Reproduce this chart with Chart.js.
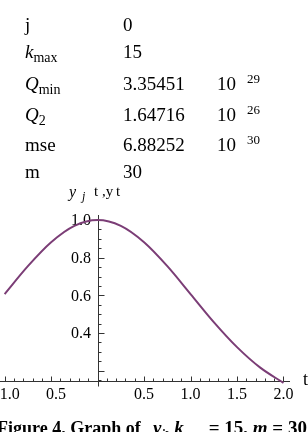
<!DOCTYPE html>
<html>
<head>
<meta charset="utf-8">
<script src="https://cdn.jsdelivr.net/npm/chart.js@4/dist/chart.umd.min.js"></script>
<style>
  html, body { margin: 0; padding: 0; background: #fff; overflow: hidden; }
  #wrap { position: relative; width: 308px; height: 432px; font-family: "Liberation Serif", "Times New Roman", serif; color: #000; }
  #wrap canvas { position: absolute; left: 0; top: 0; }
  .t { position: absolute; white-space: nowrap; line-height: 1; }
  .sub { vertical-align: -4px; }
</style>
</head>
<body>
<div id="wrap"><canvas id="curveChart" width="308" height="432"></canvas></div>
<script>
// Curve samples
const tValues = [-1.0, -0.75, -0.5, -0.25, 0, 0.25, 0.5, 0.75, 1.0, 1.25, 1.5, 1.75, 2.0];
const yValues = [0.607, 0.755, 0.882, 0.969, 1.0, 0.969, 0.882, 0.755, 0.607, 0.458, 0.325, 0.216, 0.135];

// Axis ticks (minus signs on the left side are missing in the source)
const xTickValues = [-1, -0.5, 0.5, 1, 1.5, 2];
const xTickLabels = ['1.0', '0.5', '0.5', '1.0', '1.5', '2.0'];
const yTickValues = [0.4, 0.6, 0.8, 1.0];
const yTickLabels = ['0.4', '0.6', '0.8', '1.0'];

// Parameter table
const paramNames = ['j', '<i>k</i><span class="sub" style="font-size:14px">max</span>',
  '<i>Q</i><span class="sub" style="font-size:14px">min</span>', '<i>Q</i><span class="sub" style="font-size:14px">2</span>', 'mse', 'm'];
const paramValues = ['0', '15', '3.35451', '1.64716', '6.88252', '30'];
const paramExponents = ['', '', '29', '26', '30', ''];
const rowBaselines = [31, 58, 90, 121, 151, 178];

const wrap = document.getElementById('wrap');

function put(html, x, base, size, extra) {
  const el = document.createElement('div');
  el.className = 't';
  el.innerHTML = html;
  el.style.left = x + 'px';
  el.style.top = (base - 0.8375 * size) + 'px';
  el.style.fontSize = size + 'px';
  if (extra) el.style.cssText += extra;
  wrap.appendChild(el);
}

paramNames.forEach((name, i) => {
  const b = rowBaselines[i];
  put(name, 25, b, 19);
  put(paramValues[i], 123, b, 19);
  if (paramExponents[i]) {
    put('10', 217, b, 19);
    put(paramExponents[i], 247, b - 7, 13);
  }
});

// y axis label: y_j t ,y t
put('<i>y</i>', 69, 197, 16);
put('<i>j</i>', 82, 200, 12);
put('t', 94, 197, 15);
put(',y', 102, 197, 15);
put('t', 116, 197, 15);
put('t', 303, 385, 18);

// caption (cut off at the bottom of the picture)
put('Figure 4. Graph of', -3, 434, 18, 'font-weight:bold');
put('<i>y</i><span class="sub" style="font-size:12px"><i>j</i></span>, <i>k</i><span class="sub" style="font-size:11px">max</span> = 15, <i>m</i> = 30',
  153, 434, 19, 'font-weight:bold');

// Mathematica style axes drawn through the chart's scales
const mmaAxes = {
  id: 'mmaAxes',
  beforeDatasetsDraw(chart) {
    const { ctx, chartArea } = chart;
    const xs = chart.scales.x;
    const ys = chart.scales.y;
    const x0 = Math.round(xs.getPixelForValue(0)) + 0.5;
    const yb = Math.round(chartArea.bottom) + 0.5;

    ctx.save();
    ctx.strokeStyle = '#333';
    ctx.lineWidth = 1;
    ctx.beginPath();
    ctx.moveTo(0, yb);
    ctx.lineTo(chartArea.right, yb);
    ctx.moveTo(x0, chartArea.top);
    ctx.lineTo(x0, yb + 5);

    // x ticks, pointing up
    for (let k = -10; k <= 20; k++) {
      if (k === 0) continue;
      const px = Math.round(xs.getPixelForValue(k / 10)) + 0.5;
      const len = k % 5 === 0 ? 5 : 3;
      ctx.moveTo(px, yb);
      ctx.lineTo(px, yb - len);
    }
    // y ticks, pointing right
    for (let k = 3; k <= 20; k++) {
      const py = Math.round(ys.getPixelForValue(k / 20)) + 0.5;
      const len = k % 4 === 0 ? 6 : 3;
      ctx.moveTo(x0, py);
      ctx.lineTo(x0 + len, py);
    }
    ctx.stroke();

    ctx.fillStyle = '#000';
    ctx.font = '16px "Liberation Serif", serif';
    ctx.textBaseline = 'middle';
    xTickValues.forEach((v, i) => {
      const px = xs.getPixelForValue(v);
      if (v < 0) {
        ctx.textAlign = 'right';
        ctx.fillText(xTickLabels[i], px + 15, yb + 13);
      } else {
        ctx.textAlign = 'center';
        ctx.fillText(xTickLabels[i], px, yb + 13);
      }
    });
    ctx.textAlign = 'right';
    yTickValues.forEach((v, i) => {
      ctx.fillText(yTickLabels[i], x0 - 7.5, ys.getPixelForValue(v) + 1);
    });
    ctx.restore();
  }
};

new Chart(document.getElementById('curveChart'), {
  type: 'scatter',
  data: {
    datasets: [{
      data: tValues.map((t, i) => ({ x: t, y: yValues[i] })),
      showLine: true,
      borderColor: 'rgb(123, 61, 118)',
      borderWidth: 2,
      pointRadius: 0,
      cubicInterpolationMode: 'monotone',
      clip: false
    }]
  },
  options: {
    responsive: false,
    animation: false,
    layout: { padding: { left: 0, right: 18, top: 215, bottom: 51 } },
    scales: {
      x: { type: 'linear', min: -1.05, max: 2.07, display: false },
      y: { type: 'linear', min: 0.145, max: 1.027, display: false }
    },
    plugins: { legend: { display: false }, tooltip: { enabled: false } }
  },
  plugins: [mmaAxes]
});
</script>
</body>
</html>
